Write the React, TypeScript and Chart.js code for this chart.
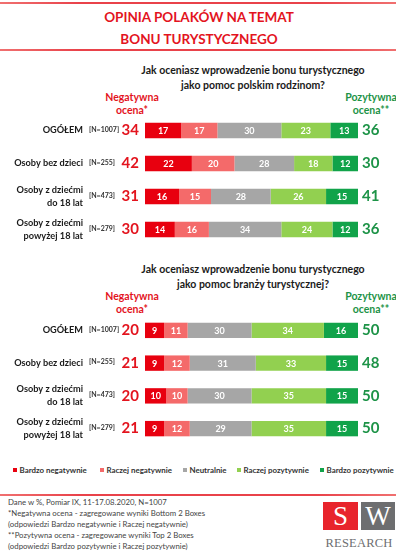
import React, { useEffect, useRef } from "react";
import { Chart, registerables } from "chart.js";

Chart.register(...registerables);

// ---- data ----
const CATEGORIES: string[][] = [
  ["OGÓŁEM"],
  ["Osoby bez dzieci"],
  ["Osoby z dziećmi", "do 18 lat"],
  ["Osoby z dziećmi", "powyżej 18 lat"],
];
const N_LABELS = ["[N=1007]", "[N=255]", "[N=473]", "[N=279]"];
const SERIES = [
  "Bardzo negatywnie",
  "Raczej negatywnie",
  "Neutralnie",
  "Raczej pozytywnie",
  "Bardzo pozytywnie",
];
const COLORS = ["#e8000f", "#f46a6a", "#a6a6a6", "#92d050", "#11a34a"];

const Q1_TITLE = ["Jak oceniasz wprowadzenie bonu turystycznego", "jako pomoc polskim rodzinom?"];
const Q1_BARDZO_NEG = [17, 22, 16, 14];
const Q1_RACZEJ_NEG = [17, 20, 15, 16];
const Q1_NEUTRAL = [30, 28, 28, 34];
const Q1_RACZEJ_POZ = [23, 18, 26, 24];
const Q1_BARDZO_POZ = [13, 12, 15, 12];
const Q1_NEG_TOTAL = [34, 42, 31, 30];
const Q1_POZ_TOTAL = [36, 30, 41, 36];

const Q2_TITLE = ["Jak oceniasz wprowadzenie bonu turystycznego", "jako pomoc branży turystycznej?"];
const Q2_BARDZO_NEG = [9, 9, 10, 9];
const Q2_RACZEJ_NEG = [11, 12, 10, 12];
const Q2_NEUTRAL = [30, 31, 30, 29];
const Q2_RACZEJ_POZ = [34, 33, 35, 35];
const Q2_BARDZO_POZ = [16, 15, 15, 15];
const Q2_NEG_TOTAL = [20, 21, 20, 21];
const Q2_POZ_TOTAL = [50, 48, 50, 50];

const FOOTNOTES = [
  "Dane w %, Pomiar IX, 11-17.08.2020, N=1007",
  "*Negatywna ocena - zagregowane wyniki Bottom 2 Boxes",
  "(odpowiedzi Bardzo negatywnie i Raczej negatywnie)",
  "**Pozytywna ocena - zagregowane wyniki Top 2 Boxes",
  "(odpowiedzi Bardzo pozytywnie i Raczej pozytywnie)",
];

const FONT = "Lato, 'Open Sans', sans-serif";
const RED = "#e3141e";
const GREEN = "#1d9347";

function StackChart(props: {
  series: number[][];
  neg: number[];
  poz: number[];
  top: number;
  height: number;
}) {
  const ref = useRef<HTMLCanvasElement>(null);
  useEffect(() => {
    if (!ref.current) return;
    const labelsPlugin = {
      id: "rowLabels",
      afterDraw(chart: any) {
        const ctx = chart.ctx;
        const yScale = chart.scales.y;
        ctx.save();
        chart.data.datasets.forEach((ds: any, di: number) => {
          const meta = chart.getDatasetMeta(di);
          meta.data.forEach((el: any, i: number) => {
            const cx = (el.x + el.base) / 2;
            ctx.fillStyle = "#ffffff";
            ctx.font = `bold 9px ${FONT}`;
            ctx.textAlign = "center";
            ctx.textBaseline = "middle";
            ctx.fillText(String(ds.data[i]), cx, el.y + 0.5);
          });
        });
        CATEGORIES.forEach((lines, i) => {
          const y = yScale.getPixelForValue(i);
          ctx.fillStyle = "#1a1a1a";
          ctx.font = `bold 9.2px ${FONT}`;
          ctx.textAlign = "right";
          ctx.textBaseline = "middle";
          if (lines.length === 1) {
            ctx.fillText(lines[0], 83, y);
          } else {
            ctx.fillText(lines[0], 83, y - 6.5);
            ctx.fillText(lines[1], 83, y + 6.5);
          }
          ctx.font = `bold 7px ${FONT}`;
          ctx.textAlign = "left";
          ctx.fillStyle = "#333";
          ctx.fillText(N_LABELS[i], 89, y - 1);
          ctx.font = `bold 15px ${FONT}`;
          ctx.textAlign = "right";
          ctx.fillStyle = RED;
          ctx.fillText(String(props.neg[i]), 139, y);
          ctx.textAlign = "left";
          ctx.fillStyle = GREEN;
          ctx.fillText(String(props.poz[i]), 362, y);
        });
        ctx.restore();
      },
    };
    const chart = new Chart(ref.current, {
      type: "bar",
      data: {
        labels: CATEGORIES.map((c) => c.join(" ")),
        datasets: SERIES.map((name, k) => ({
          label: name,
          data: props.series[k],
          backgroundColor: COLORS[k],
          borderWidth: 0,
          barPercentage: 0.47,
          categoryPercentage: 1,
        })),
      },
      options: {
        indexAxis: "y",
        animation: false,
        responsive: false,
        maintainAspectRatio: false,
        layout: { padding: { left: 145, right: 38, top: 0, bottom: 0 } },
        scales: {
          x: { stacked: true, min: 0, max: 100, display: false },
          y: { stacked: true, display: false },
        },
        plugins: { legend: { display: false }, tooltip: { enabled: false } },
      },
      plugins: [labelsPlugin],
    } as any);
    return () => chart.destroy();
  }, []);
  return (
    <canvas
      ref={ref}
      width={396}
      height={props.height}
      style={{ position: "absolute", left: 0, top: props.top, width: 396, height: props.height }}
    />
  );
}

function Txt(props: { x: number; y: number; children: any; style?: any; align?: string }) {
  const align = props.align || "center";
  const tx = align === "center" ? "-50%" : align === "right" ? "-100%" : "0";
  return (
    <div
      style={{
        position: "absolute",
        left: props.x,
        top: props.y,
        transform: `translate(${tx}, -50%)`,
        whiteSpace: "nowrap",
        lineHeight: 1,
        ...props.style,
      }}
    >
      {props.children}
    </div>
  );
}

function Header(props: { title: string[]; y: number; negY: number }) {
  const q = { fontSize: 10.5, fontWeight: 700, color: "#1a1a1a" };
  const n = { fontSize: 10.5, fontWeight: 700, color: RED };
  const p = { fontSize: 10.5, fontWeight: 700, color: GREEN };
  return (
    <>
      <Txt x={253} y={props.y} style={q}>{props.title[0]}</Txt>
      <Txt x={253} y={props.y + 15} style={q}>{props.title[1]}</Txt>
      <Txt x={132} y={props.negY} style={n}>Negatywna</Txt>
      <Txt x={132} y={props.negY + 13} style={n}>ocena*</Txt>
      <Txt x={371} y={props.negY} style={p}>Pozytywna</Txt>
      <Txt x={371} y={props.negY + 13} style={p}>ocena**</Txt>
    </>
  );
}

const lineStyle = (y: number) => ({
  position: "absolute" as const,
  left: 0,
  top: y,
  width: 396,
  height: 2,
  background: "linear-gradient(90deg, #f07070 0%, #e9424a 20%, #e9424a 80%, #f07070 100%)",
});

export default function App() {
  const legendX = [13, 100, 183, 237, 320];
  return (
    <div
      style={{
        position: "fixed",
        left: 0,
        top: 0,
        width: 396,
        height: 558,
        overflow: "hidden",
        background: "#fff",
        fontFamily: FONT,
      }}
    >
      <div style={lineStyle(2)} />
      <Txt x={199} y={18} style={{ fontSize: 13.5, fontWeight: 700, color: RED }}>
        OPINIA POLAKÓW NA TEMAT
      </Txt>
      <Txt x={199} y={40} style={{ fontSize: 13.5, fontWeight: 700, color: RED }}>
        BONU TURYSTYCZNEGO
      </Txt>
      <div style={lineStyle(49)} />

      <Header title={Q1_TITLE} y={70} negY={97} />
      <StackChart
        series={[Q1_BARDZO_NEG, Q1_RACZEJ_NEG, Q1_NEUTRAL, Q1_RACZEJ_POZ, Q1_BARDZO_POZ]}
        neg={Q1_NEG_TOTAL}
        poz={Q1_POZ_TOTAL}
        top={114}
        height={132}
      />

      <Header title={Q2_TITLE} y={269} negY={296} />
      <StackChart
        series={[Q2_BARDZO_NEG, Q2_RACZEJ_NEG, Q2_NEUTRAL, Q2_RACZEJ_POZ, Q2_BARDZO_POZ]}
        neg={Q2_NEG_TOTAL}
        poz={Q2_POZ_TOTAL}
        top={314}
        height={131}
      />

      {SERIES.map((s, k) => (
        <div
          key={s}
          style={{
            position: "absolute",
            left: legendX[k],
            top: 465,
            display: "flex",
            alignItems: "center",
            fontSize: 7.9,
            fontWeight: 700,
            color: "#333",
            whiteSpace: "nowrap",
          }}
        >
          <span style={{ width: 4, height: 4, background: COLORS[k], marginRight: 2.5, display: "inline-block" }} />
          {s}
        </div>
      ))}

      <div style={lineStyle(494)} />
      {FOOTNOTES.map((f, i) => (
        <Txt key={i} x={8} y={[503, 513.5, 524.5, 535.5, 547][i]} align="left" style={{ fontSize: 7.8, color: "#444" }}>
          {f}
        </Txt>
      ))}

      <div
        style={{
          position: "absolute",
          left: 323,
          top: 502,
          width: 35,
          height: 28,
          background: "#e8242c",
          color: "#fff",
          fontFamily: "'Liberation Serif', serif",
          fontSize: 27,
          textAlign: "center",
          lineHeight: "29px",
        }}
      >
        S
      </div>
      <div
        style={{
          position: "absolute",
          left: 361,
          top: 502,
          width: 34,
          height: 28,
          background: "#6d6e70",
          color: "#fff",
          fontFamily: "'Liberation Serif', serif",
          fontSize: 27,
          textAlign: "center",
          lineHeight: "29px",
        }}
      >
        W
      </div>
      <Txt x={359} y={543} style={{ fontFamily: "'Liberation Serif', serif", fontSize: 12.5, color: "#6d6e70", letterSpacing: 0.2 }}>
        RESEARCH
      </Txt>
    </div>
  );
}
